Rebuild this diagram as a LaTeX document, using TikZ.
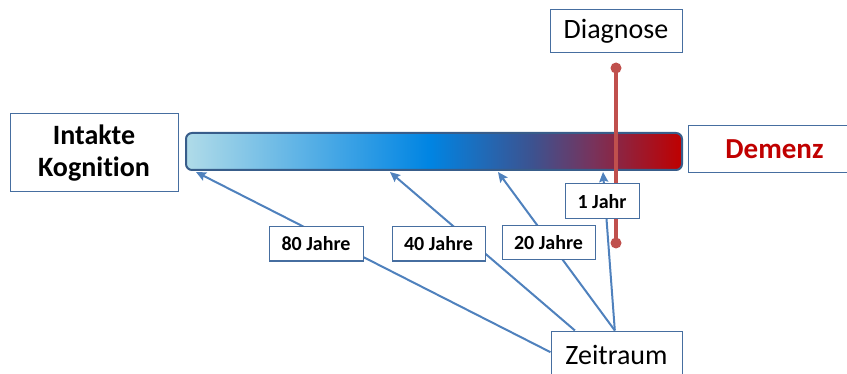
\documentclass[tikz,border=0pt]{standalone}
\usepackage{fontspec}
\setmainfont{Carlito}[Ligatures=NoCommon]
\usetikzlibrary{arrows.meta}

\definecolor{boxblue}{RGB}{70,110,160}
\definecolor{arrowblue}{RGB}{79,129,189}
\definecolor{barframe}{RGB}{56,93,138}
\definecolor{diagred}{RGB}{192,80,77}
\definecolor{demred}{RGB}{192,0,0}

\pgfdeclarehorizontalshading{zeitbalken}{100bp}{%
  rgb(0bp)=(0.69,0.86,0.91);
  rgb(25bp)=(0.69,0.86,0.91);
  rgb(49.5bp)=(0,0.52,0.89);
  rgb(60bp)=(0.24,0.32,0.56);
  rgb(66bp)=(0.47,0.2,0.36);
  rgb(75bp)=(0.75,0,0);
  rgb(100bp)=(0.75,0,0)}

\begin{document}
\begin{tikzpicture}[x=0.5pt, y=-0.5pt,
    txtbox/.style={draw=boxblue, line width=0.5pt, fill=white, inner sep=0pt},
    jahrbox/.style={txtbox, minimum height=17pt, font=\bfseries\fontsize{10}{12}\selectfont},
    reddot/.style={circle, fill=diagred, inner sep=0pt, minimum size=5.5pt},
    pfeil/.style={draw=arrowblue, line width=1pt, -{Stealth[length=5pt, width=4.5pt, inset=0.8pt]}}]
    \useasboundingbox (0,0) rectangle (847,374);
    \clip (0,0) rectangle (847,374);

    \node (kog) [txtbox, minimum width=84pt, minimum height=39pt, align=center,
        font=\bfseries\fontsize{14}{16}\selectfont] at (94,153) {Intakte\\Kognition};
    \node (demenz) [txtbox, minimum width=86.5pt, minimum height=23.5pt, text=demred,
        font=\bfseries\fontsize{14.5}{17}\selectfont] at (774.5,149.5) {Demenz};
    \node (diag) [txtbox, minimum width=66pt, minimum height=21.5pt,
        font=\fontsize{14}{17}\selectfont] at (616,31.5) {Diagnose};
    \node (zeit) [txtbox, minimum width=65.5pt, minimum height=23.5pt,
        font=\fontsize{14}{17}\selectfont] at (616.5,354.5) {Zeitraum};

    \draw[shading=zeitbalken, draw=barframe, line width=1pt, rounded corners=3pt]
        (186,133) rectangle (682,170);

    \node (dtop) [reddot] at (616,68) {};
    \node (dbot) [reddot] at (616,243) {};
    \draw[diagred, line width=2pt] (dtop.center) -- (dbot.center);

    \coordinate (p80) at (196,172);
    \coordinate (p40) at (390,172);
    \coordinate (p20) at (498,172);
    \coordinate (p1) at (603,172);

    \draw[pfeil] (zeit.178) -- (p80);
    \draw[pfeil] (zeit.150) -- (p40);
    \draw[pfeil] (zeit.94) -- (p20);
    \draw[pfeil] (zeit.94) -- (p1);

    \node (j80) [jahrbox, minimum width=47pt] at (316,244) {80 Jahre};
    \node (j40) [jahrbox, minimum width=46.5pt] at (438.5,244) {40 Jahre};
    \node (j20) [jahrbox, minimum width=46.5pt] at (548.5,243) {20 Jahre};
    \node (j1) [jahrbox, minimum width=37pt, minimum height=17.5pt] at (602,201.5) {1 Jahr};
\end{tikzpicture}
\end{document}
